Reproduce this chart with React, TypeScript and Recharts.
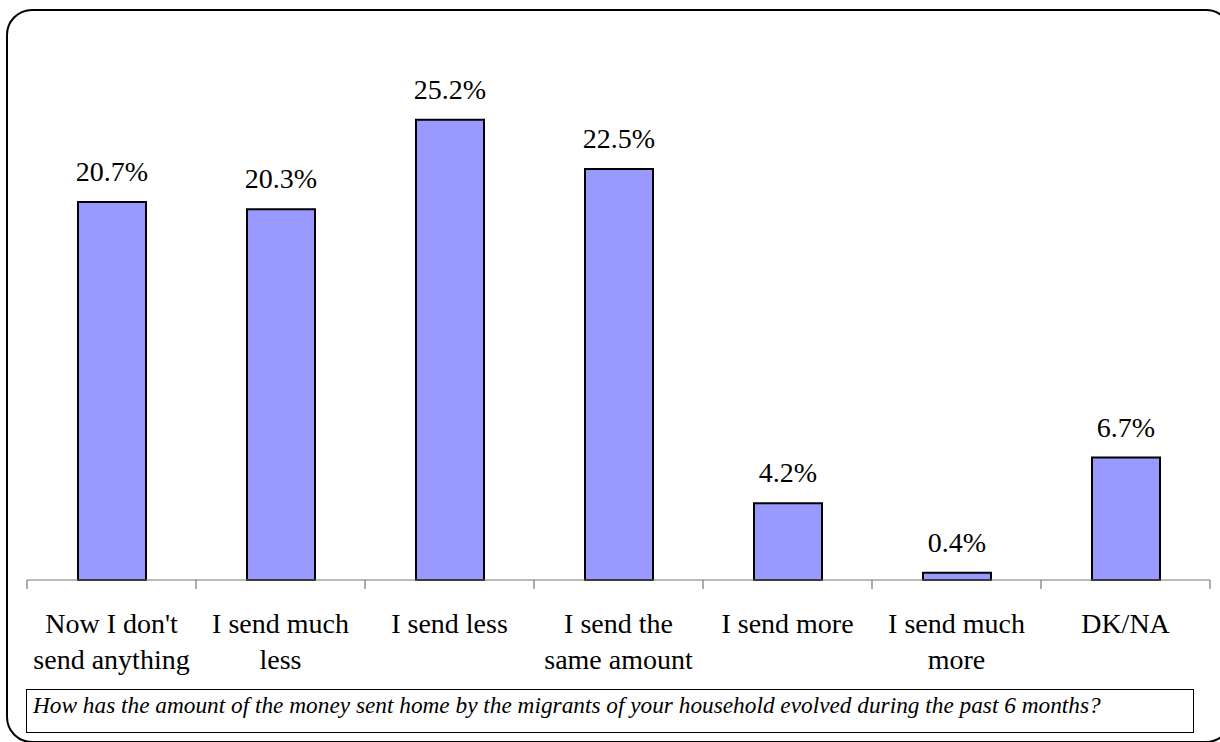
import React from 'react';
import { BarChart, Bar, XAxis, YAxis } from 'recharts';

const categories = [
  "Now I don't\nsend anything",
  'I send much\nless',
  'I send less',
  'I send the\nsame amount',
  'I send more',
  'I send much\nmore',
  'DK/NA',
];
const shares = [20.7, 20.3, 25.2, 22.5, 4.2, 0.4, 6.7];
const question =
  'How has the amount of the money sent home by the migrants of your household evolved during the past 6 months?';

const data = categories.map((name, i) => ({ name, value: shares[i] }));

const W = 1220;
const H = 742;
const M = { top: 32, left: 27, right: 10, bottom: 62 };
const AXIS_H = 100;
const FONT = '"Liberation Serif", "Times New Roman", serif';
const HALF_BAND = (W - M.left - M.right) / categories.length / 2;

const CategoryTick = (props: any) => {
  const { x, y, payload, index } = props;
  const lines = String(payload.value).split('\n');
  const half = payload.offset || HALF_BAND;
  return (
    <g>
      <line x1={x - half} x2={x - half} y1={y} y2={y + 9} stroke="#777" strokeWidth={1.2} />
      {index === categories.length - 1 && (
        <line x1={x + half} x2={x + half} y1={y} y2={y + 9} stroke="#777" strokeWidth={1.2} />
      )}
      <text x={x} y={y + 53} textAnchor="middle" fontFamily={FONT} fontSize={28} fill="#000">
        {lines.map((ln, i) => (
          <tspan key={i} x={x} dy={i === 0 ? 0 : 36}>
            {ln}
          </tspan>
        ))}
      </text>
    </g>
  );
};

const ValueLabel = (props: any) => {
  const { x, y, width, value } = props;
  return (
    <text
      x={x + width / 2}
      y={y - 21}
      textAnchor="middle"
      fontFamily={FONT}
      fontSize={28}
      fill="#000"
    >
      {`${Number(value).toFixed(1)}%`}
    </text>
  );
};

export default function App() {
  return (
    <div
      style={{
        position: 'absolute',
        left: 0,
        top: 0,
        width: W,
        height: H,
        overflow: 'hidden',
        background: '#fff',
      }}
    >
      <div
        style={{
          position: 'absolute',
          left: 6,
          top: 9,
          width: 1222,
          height: 730,
          border: '2px solid #000',
          borderRadius: 26,
        }}
      />
      <div style={{ position: 'absolute', left: 0, top: 0 }}>
        <BarChart width={W} height={H} data={data} margin={M} barSize={68}>
          <YAxis hide domain={[0, 30]} />
          <XAxis
            dataKey="name"
            height={AXIS_H}
            interval={0}
            tickLine={false}
            tickSize={0}
            tickMargin={0}
            axisLine={{ stroke: '#777', strokeWidth: 1.2 }}
            tick={<CategoryTick />}
          />
          <Bar
            dataKey="value"
            fill="#9999FF"
            stroke="#000"
            strokeWidth={2}
            isAnimationActive={false}
            label={<ValueLabel />}
          />
        </BarChart>
      </div>
      <div
        style={{
          position: 'absolute',
          left: 26,
          top: 689,
          width: 1160,
          height: 40,
          border: '1.5px solid #000',
          fontFamily: FONT,
          fontStyle: 'italic',
          fontSize: 23.3,
          lineHeight: '26px',
          paddingLeft: 6,
          paddingTop: 2,
          boxSizing: 'content-box',
          whiteSpace: 'nowrap',
        }}
      >
        {question}
      </div>
    </div>
  );
}
